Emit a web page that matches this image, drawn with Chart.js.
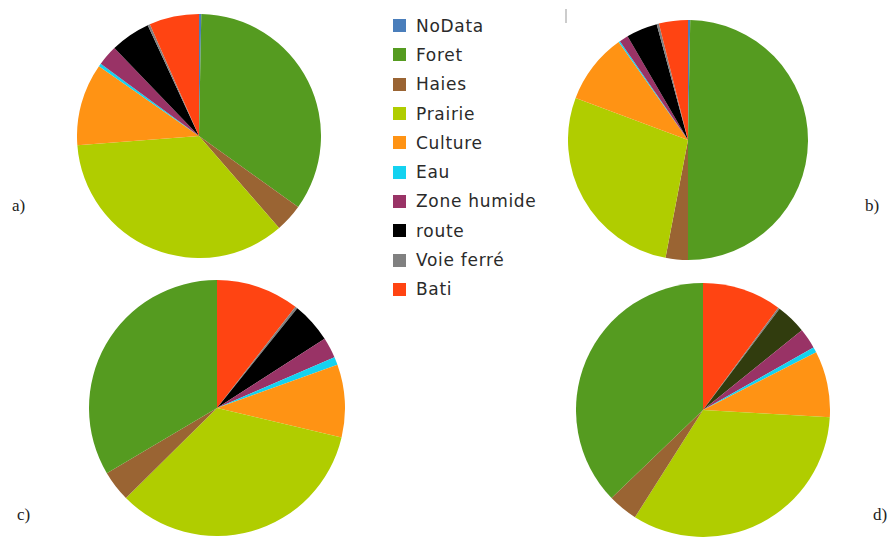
<!DOCTYPE html>
<html>
<head>
<meta charset="utf-8">
<script src="https://cdn.jsdelivr.net/npm/chart.js@4/dist/chart.umd.min.js"></script>
<style>
  body { margin: 0; background: #fff; }
  #wrap { position: relative; width: 893px; height: 538px; overflow: hidden; background: #fff; }
  canvas { position: absolute; }
  .tag { position: absolute; font-family: "Liberation Serif", "DejaVu Serif", serif; font-size: 17px; color: #222; }
  #legend { position: absolute; left: 393px; top: 11px; font-family: "DejaVu Sans", sans-serif; font-size: 17px; letter-spacing: 0.7px; color: #2a2a2a; }
  .item { height: 29.3px; display: flex; align-items: center; }
  .box { width: 13px; height: 13px; margin-right: 10px; }
  #tick { position: absolute; left: 565px; top: 9px; width: 2px; height: 14px; background: #ccc; }
</style>
</head>
<body>
<div id="wrap">
  <canvas id="pieA" width="244" height="244" style="left:77px;top:14px"></canvas>
  <canvas id="pieB" width="240" height="240" style="left:568px;top:20px"></canvas>
  <canvas id="pieC" width="256" height="256" style="left:89px;top:280px"></canvas>
  <canvas id="pieD" width="254" height="254" style="left:576px;top:283px"></canvas>
  <div class="tag" style="left:12px;top:196px">a)</div>
  <div class="tag" style="left:865px;top:196px">b)</div>
  <div class="tag" style="left:17px;top:505px">c)</div>
  <div class="tag" style="left:873px;top:505px">d)</div>
  <div id="legend"></div>
  <div id="tick"></div>
</div>
<script>
// land cover classes, legend order
const categories = ["NoData", "Foret", "Haies", "Prairie", "Culture", "Eau", "Zone humide", "route", "Voie ferré", "Bati"];
const colors = ["#4a7ebb", "#559b20", "#9a6433", "#b0cd00", "#ff9314", "#14d2f0", "#993366", "#000000", "#808080", "#ff4412"];

// shares in %
const valuesA = [0.3, 34.6, 3.7, 35.2, 10.9, 0.4, 2.7, 5.3, 0.3, 6.6];
const valuesB = [0.3, 49.7, 3.0, 27.7, 9.5, 0.2, 1.2, 4.2, 0.3, 3.9];
const valuesC = [0.0, 33.5, 3.9, 33.9, 9.2, 1.0, 2.6, 5.1, 0.3, 10.5];
const valuesD = [0.0, 37.2, 3.8, 33.1, 8.4, 0.7, 2.6, 3.9, 0.2, 10.1];

// route is drawn dark olive in d)
const colorsD = colors.slice();
colorsD[7] = "#313c0e";

function drawPie(id, values, cols, counterClockwise) {
  let data = values.slice(), bg = cols.slice(), labels = categories.slice();
  if (counterClockwise) { data.reverse(); bg.reverse(); labels.reverse(); }
  new Chart(document.getElementById(id).getContext("2d"), {
    type: "pie",
    data: {
      labels: labels,
      datasets: [{ data: data, backgroundColor: bg, borderWidth: 0 }]
    },
    options: {
      responsive: false,
      animation: false,
      layout: { padding: 0 },
      plugins: { legend: { display: false }, tooltip: { enabled: false } }
    }
  });
}

drawPie("pieA", valuesA, colors, false);
drawPie("pieB", valuesB, colors, false);
drawPie("pieC", valuesC, colors, true);
drawPie("pieD", valuesD, colorsD, true);

const legend = document.getElementById("legend");
categories.forEach((c, i) => {
  const row = document.createElement("div");
  row.className = "item";
  row.innerHTML = '<span class="box" style="background:' + colors[i] + '"></span><span>' + c + '</span>';
  legend.appendChild(row);
});
</script>
</body>
</html>
